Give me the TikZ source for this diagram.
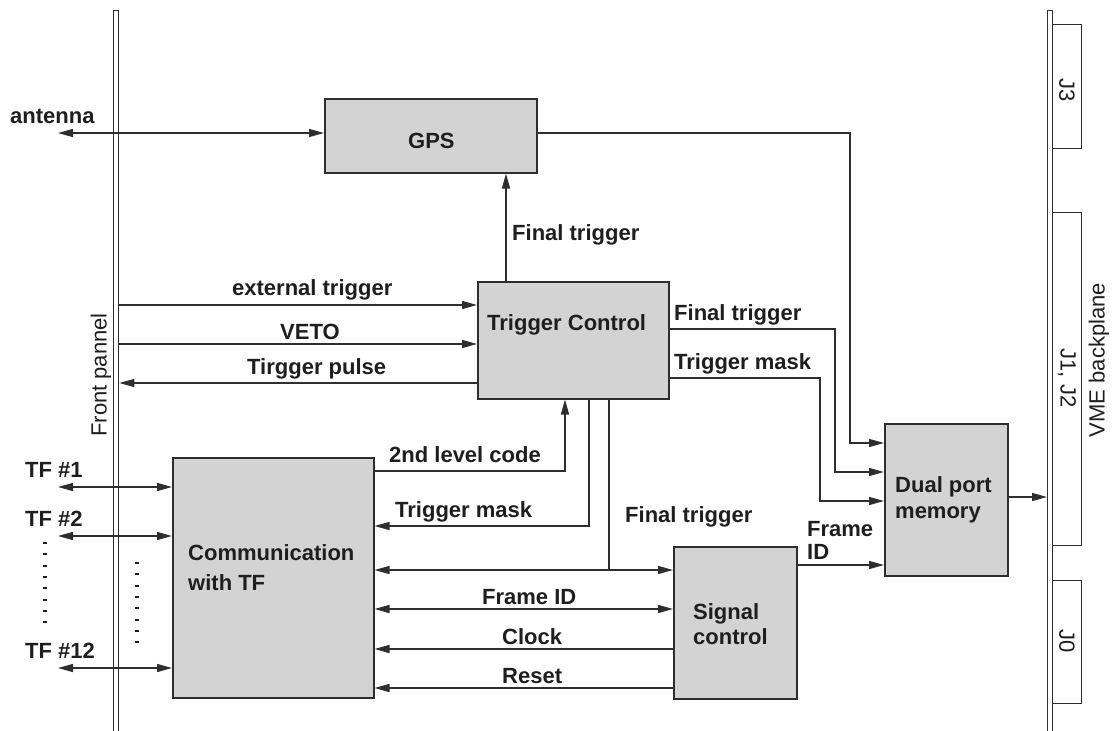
\documentclass[tikz,border=0pt]{standalone}
\usepackage{fontspec}
\setmainfont{Liberation Sans}
\usetikzlibrary{arrows.meta}
\definecolor{ln}{HTML}{2E2E2E}
\definecolor{bx}{HTML}{D3D3D3}
\definecolor{tx}{HTML}{1E1E1E}
\tikzset{
  box/.style={draw=ln, fill=bx, line width=1.5pt, inner sep=0pt, anchor=north west},
  panel/.style={draw=ln, fill=white, line width=1.3pt, inner sep=0pt, anchor=north west},
  conn/.style={draw=ln, line width=1.4pt},
  arr/.style={conn, -{Triangle[length=15pt,width=8pt]}},
  darr/.style={conn, {Triangle[length=15pt,width=8pt]}-{Triangle[length=15pt,width=8pt]}},
  lbl/.style={font=\bfseries\fontsize{22}{25}\selectfont, text=tx, inner sep=0pt, anchor=base west},
  vlbl/.style={font=\fontsize{22}{25}\selectfont, text=tx, inner sep=0pt},
  dotmark/.style={draw=tx, line width=2pt}
}
\begin{document}
\begin{tikzpicture}[x=1pt,y=-1pt]
\useasboundingbox (0,0) rectangle (1112,731);

% panels
\node[panel, minimum width=5pt, minimum height=740pt] (fp) at (113,10) {};
\node[panel, minimum width=5pt, minimum height=740pt] (bp) at (1047,10) {};
\node[panel, minimum width=29pt, minimum height=124pt] (j3) at (1052,24) {};
\node[panel, minimum width=29pt, minimum height=333pt] (j12) at (1052,212) {};
\node[panel, minimum width=29pt, minimum height=123pt] (j0) at (1052,580) {};
\node[vlbl, rotate=-90] (j3t) at (1067,90) {J3};
\node[vlbl, rotate=-90] (j12t) at (1067,378) {J1, J2};
\node[vlbl, rotate=-90] (j0t) at (1067,641) {J0};
\node[vlbl, rotate=90] (fpt) at (101,375) {Front pannel};
\node[vlbl, rotate=90] (bpt) at (1099,360) {VME backplane};

% boxes
\node[box, minimum width=212pt, minimum height=74pt] (gps) at (324,98) {};
\node[box, minimum width=191pt, minimum height=117pt] (tc) at (477,281) {};
\node[box, minimum width=201pt, minimum height=240pt] (comm) at (172,457) {};
\node[box, minimum width=123pt, minimum height=152pt] (sig) at (673,546) {};
\node[box, minimum width=123pt, minimum height=152pt] (dpm) at (884,423) {};

\node[lbl] (gpst) at (408,148) {GPS};
\node[lbl] (tct) at (487,330) {Trigger Control};
\node[lbl] (commt1) at (188,560) {Communication};
\node[lbl] (commt2) at (188,590) {with TF};
\node[lbl] (sigt1) at (693,619) {Signal};
\node[lbl] (sigt2) at (693,644) {control};
\node[lbl] (dpmt1) at (895,492) {Dual port};
\node[lbl] (dpmt2) at (895,518) {memory};

% coordinates
\coordinate (ant) at (58,133);
\coordinate (g1) at (850,133);
\coordinate (g2) at (850,443);
\coordinate (ftx) at (506,0);
\coordinate (et) at (0,305);
\coordinate (veto) at (0,344);
\coordinate (tp) at (0,383);
\coordinate (f1) at (835,329);
\coordinate (f2) at (835,472);
\coordinate (m1) at (820,378);
\coordinate (m2) at (820,501);
\coordinate (s1) at (565,471);
\coordinate (t1) at (589,526);
\coordinate (ft2) at (609,570);
\coordinate (fid) at (0,609);
\coordinate (clk) at (0,649);
\coordinate (rst) at (0,688);
\coordinate (fid2) at (0,565);
\coordinate (out) at (0,497);
\coordinate (tf1) at (58,487);
\coordinate (tf2) at (58,536);
\coordinate (tf12) at (58,668);

% connectors
\draw[darr] (ant) -- (ant -| gps.west);
\draw[arr] (gps.east |- g1) -- (g1) -- (g2) -- (g2 -| dpm.west);
\draw[arr] (tc.north -| ftx) -- (gps.south -| ftx);
\draw[arr] (fp.east |- et) -- (tc.west |- et);
\draw[arr] (fp.east |- veto) -- (tc.west |- veto);
\draw[arr] (tc.west |- tp) -- (fp.east |- tp);
\draw[arr] (tc.east |- f1) -- (f1) -- (f2) -- (f2 -| dpm.west);
\draw[arr] (tc.east |- m1) -- (m1) -- (m2) -- (m2 -| dpm.west);
\draw[arr] (comm.east |- s1) -- (s1) -- (s1 |- tc.south);
\draw[arr] (tc.south -| t1) -- (t1) -- (t1 -| comm.east);
\draw[conn] (tc.south -| ft2) -- (ft2);
\draw[darr] (comm.east |- ft2) -- (sig.west |- ft2);
\draw[darr] (comm.east |- fid) -- (sig.west |- fid);
\draw[arr] (sig.west |- clk) -- (comm.east |- clk);
\draw[arr] (sig.west |- rst) -- (comm.east |- rst);
\draw[arr] (sig.east |- fid2) -- (dpm.west |- fid2);
\draw[arr] (dpm.east |- out) -- (bp.west |- out);
\draw[darr] (tf1) -- (tf1 -| comm.west);
\draw[darr] (tf2) -- (tf2 -| comm.west);
\draw[darr] (tf12) -- (tf12 -| comm.west);

% dashes
\foreach \i in {0,...,7} {
  \draw[dotmark] (43,543+11.3*\i) -- (47,543+11.3*\i);
  \draw[dotmark] (135,563+11.3*\i) -- (139,563+11.3*\i);
}

% labels
\node[lbl] (antt) at (10,123) {antenna};
\node[lbl] (ft1t) at (512,240) {Final trigger};
\node[lbl] (ett) at (232,295) {external trigger};
\node[lbl] (vetot) at (280,339) {VETO};
\node[lbl] (tpt) at (247,374) {Tirgger pulse};
\node[lbl] (f1t) at (674,320) {Final trigger};
\node[lbl] (m1t) at (674,369) {Trigger mask};
\node[lbl] (s1t) at (389,462) {2nd level code};
\node[lbl] (t1t) at (395,517) {Trigger mask};
\node[lbl] (ft2t) at (625,522) {Final trigger};
\node[lbl] (fidt) at (482,604) {Frame ID};
\node[lbl] (clkt) at (502,644) {Clock};
\node[lbl] (rstt) at (502,683) {Reset};
\node[lbl] (fid2a) at (807,536) {Frame};
\node[lbl] (fid2b) at (807,559) {ID};
\node[lbl] (tf1t) at (25,477) {TF \#1};
\node[lbl] (tf2t) at (25,526) {TF \#2};
\node[lbl] (tf12t) at (25,658) {TF \#12};
\end{tikzpicture}
\end{document}
